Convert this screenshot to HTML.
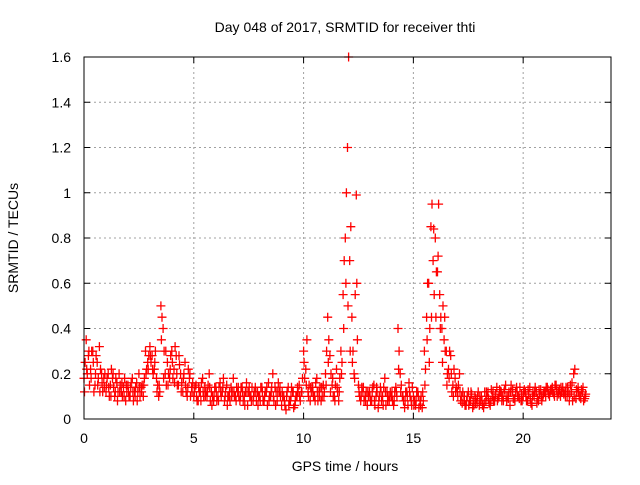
<!DOCTYPE html>
<html><head><meta charset="utf-8"><style>
body{margin:0;background:#fff}
svg text{font-family:"Liberation Sans",sans-serif;font-size:14px;fill:#000}
</style></head><body>
<svg id="chart" width="640" height="480">
<text x="345" y="32" text-anchor="middle">Day 048 of 2017, SRMTID for receiver thti</text>
<text x="345" y="471" text-anchor="middle">GPS time / hours</text>
<text transform="translate(18,238) rotate(-90)" text-anchor="middle">SRMTID / TECUs</text>
<g id="grid"></g>
<g id="ticks"></g>
<g id="marks"></g>
<rect x="84" y="57" width="527" height="362" fill="none" stroke="#000" stroke-width="1"/>
</svg>
<script>
const xTicks=[0,5,10,15,20];
const yTicks=[0,0.2,0.4,0.6,0.8,1,1.2,1.4,1.6];
const yTickLabels=["0","0.2","0.4","0.6","0.8","1","1.2","1.4","1.6"];
const startHour=0, stepHour=0.1;
const seriesA=[.18,.35,.28,.22,.30,.15,.25,.32,.20,.18,
.12,.20,.15,.18,.10,.16,.20,.12,.14,.08,
.15,.10,.18,.12,.16,.20,.14,.10,.30,.25,
.32,.28,.22,.18,.10,.50,.40,.20,.25,.18,
.30,.22,.28,.15,.20,.12,.25,.10,.18,.14,
.10,.15,.08,.12,.18,.14,.10,.20,.12,.08,
.14,.10,.16,.12,.08,.15,.10,.14,.18,.10,
.12,.08,.14,.10,.16,.12,.10,.08,.14,.12,
.10,.14,.08,.12,.16,.10,.20,.14,.08,.12,
.06,.10,.04,.14,.08,.12,.06,.10,.15,.12,
.30,.22,.12,.08,.14,.10,.18,.12,.08,.15,
.20,.45,.28,.15,.10,.22,.08,.30,.55,.80,
1.2,.70,.45,.20,.99,.15,.08,.12,.10,.06,
.12,.08,.15,.10,.05,.14,.10,.18,.12,.08,
.10,.06,.14,.40,.20,.10,.05,.12,.16,.08,
.10,.06,.12,.08,.05,.30,.45,.60,.85,.70,
.80,.65,.55,.40,.35,.30,.22,.28,.15,.18,
.12,.20,.10,.08,.06,.12,.08,.05,.10,.07,
.06,.10,.05,.08,.12,.06,.10,.08,.14,.10,
.12,.08,.15,.10,.06,.12,.09,.14,.10,.08,
.10,.12,.08,.14,.06,.10,.12,.08,.13,.10,
.12,.14,.10,.13,.11,.15,.12,.10,.14,.12,
.10,.08,.12,.20,.09,.14,.10,.12,.09];
const seriesB=[.25,.20,.15,.30,.12,.28,.18,.22,.12,.20,
.18,.10,.22,.14,.18,.12,.15,.10,.18,.12,
.10,.16,.08,.14,.12,.10,.15,.18,.22,.28,
.25,.20,.30,.15,.12,.45,.30,.15,.20,.28,
.18,.32,.15,.24,.16,.20,.12,.22,.10,.16,
.14,.08,.12,.16,.10,.12,.15,.08,.10,.14,
.08,.14,.10,.18,.12,.10,.08,.12,.10,.14,
.10,.14,.08,.12,.06,.10,.14,.12,.08,.10,
.14,.08,.12,.06,.10,.14,.08,.12,.16,.10,
.10,.06,.12,.08,.14,.05,.10,.12,.08,.18,
.18,.35,.15,.12,.10,.16,.08,.14,.10,.12,
.30,.35,.20,.10,.15,.12,.18,.25,.70,1.0,
1.6,.85,.30,.55,.35,.10,.14,.08,.12,.10,
.08,.14,.06,.12,.10,.08,.14,.06,.10,.12,
.08,.12,.10,.30,.15,.08,.12,.06,.10,.14,
.08,.12,.05,.10,.08,.22,.60,.40,.95,.55,
.65,.95,.45,.50,.30,.20,.30,.12,.22,.14,
.15,.08,.12,.06,.10,.08,.11,.06,.09,.12,
.08,.06,.12,.10,.07,.13,.08,.11,.09,.12,
.10,.13,.08,.12,.15,.09,.12,.10,.14,.08,
.13,.08,.11,.07,.12,.14,.09,.11,.08,.12,
.14,.11,.13,.12,.15,.10,.13,.12,.11,.14,
.12,.15,.08,.22,.12,.10,.13,.08,.11];
const seriesC=[.12,.22,.30,.18,.25,.20,.15,.12,.16,.14,
.15,.14,.10,.20,.12,.08,.12,.16,.10,.15,
.12,.14,.12,.10,.08,.14,.12,.15,.20,.22,
.28,.22,.25,.12,.15,.35,.18,.30,.15,.22,
.25,.16,.20,.28,.12,.18,.15,.14,.20,.12,
.12,.10,.14,.08,.12,.10,.12,.14,.06,.10,
.12,.08,.12,.14,.10,.06,.12,.10,.12,.08,
.14,.10,.12,.06,.12,.14,.08,.10,.12,.06,
.08,.12,.10,.14,.08,.12,.10,.06,.12,.14,
.12,.08,.10,.06,.10,.12,.08,.14,.10,.12,
.25,.15,.10,.14,.12,.08,.12,.10,.14,.10,
.15,.25,.12,.18,.08,.14,.12,.20,.40,.60,
.50,.30,.25,.18,.60,.12,.10,.14,.08,.12,
.10,.12,.08,.14,.08,.12,.06,.12,.08,.10,
.12,.08,.12,.22,.12,.10,.08,.10,.12,.06,
.06,.08,.10,.06,.12,.15,.35,.25,.45,.84,
.45,.72,.40,.25,.45,.15,.18,.20,.10,.12,
.10,.12,.07,.10,.08,.06,.12,.08,.07,.10,
.10,.08,.07,.12,.09,.08,.12,.10,.08,.13,
.08,.12,.10,.09,.12,.13,.08,.12,.09,.11,
.12,.10,.13,.09,.10,.12,.07,.13,.10,.11,
.10,.13,.12,.14,.10,.13,.11,.14,.12,.10,
.14,.11,.16,.10,.13,.12,.09,.14,.10];
const offsets=[0,0.05,0.025];
const NS="http://www.w3.org/2000/svg";
const X0=84,X1=611,Y0=419,Y1=57,M=4.5;
function xs(h){return X0+(h/24)*(X1-X0);}
function ys(v){return Y0-(v/1.6)*(Y0-Y1);}
function el(t,a,p){const e=document.createElementNS(NS,t);for(const k in a)e.setAttribute(k,a[k]);p.appendChild(e);return e;}
const grid=document.getElementById('grid'),ticks=document.getElementById('ticks'),marks=document.getElementById('marks');
yTicks.forEach((v,i)=>{const y=ys(v);
 if(i>0&&i<yTicks.length-1){const g=el('line',{x1:X0,x2:X1,y1:y,y2:y,stroke:'#a0a0a0','stroke-dasharray':'2,3'},grid);
 
 }
 el('line',{x1:X0,x2:X0+6,y1:y,y2:y,stroke:'#000'},ticks);
 el('line',{x1:X1,x2:X1-6,y1:y,y2:y,stroke:'#000'},ticks);
 const t=el('text',{x:71,y:y+5,'text-anchor':'end'},ticks);t.textContent=yTickLabels[i];
 
 
});
xTicks.forEach(h=>{const x=xs(h);
 if(h>0){const g=el('line',{x1:x,x2:x,y1:Y0,y2:Y1,stroke:'#a0a0a0','stroke-dasharray':'2,3'},grid);
 
 }
 el('line',{x1:x,x2:x,y1:Y0,y2:Y0-6,stroke:'#000'},ticks);
 el('line',{x1:x,x2:x,y1:Y1,y2:Y1+6,stroke:'#000'},ticks);
 const t=el('text',{x:x,y:443,'text-anchor':'middle'},ticks);t.textContent=String(h);
 
 
});
[seriesA,seriesB,seriesC].forEach((s,si)=>{
 let d='';
 s.forEach((v,i)=>{const x=xs(startHour+i*stepHour+offsets[si]),y=ys(v);
  d+=`M${(x-M).toFixed(1)} ${y.toFixed(1)}h${2*M}M${x.toFixed(1)} ${(y-M).toFixed(1)}v${2*M}`;});
 const p=el('path',{d:d,stroke:'#ff0000','stroke-width':1.3,fill:'none'},marks);
 
 
});
</script>
</body></html>
